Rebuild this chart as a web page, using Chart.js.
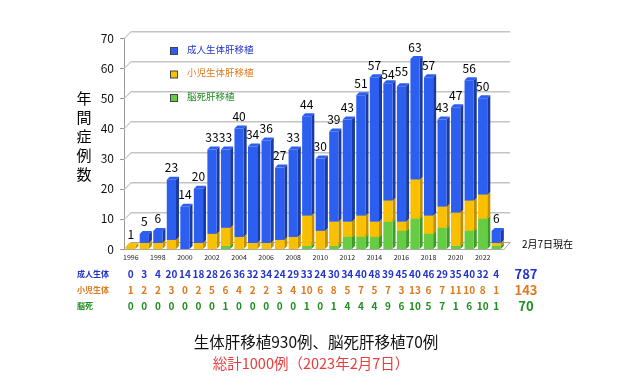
<!DOCTYPE html>
<html>
<head>
<meta charset="utf-8">
<script src="https://cdn.jsdelivr.net/npm/chart.js@4/dist/chart.umd.min.js"></script>
<style>
  html, body { margin: 0; padding: 0; background: #fff; }
</style>
</head>
<body>
<canvas id="myChart" width="637" height="387"></canvas>
<script>
const FONT = '"Noto Sans CJK JP", "Noto Sans", sans-serif';

const years = ['1996','1997','1998','1999','2000','2001','2002','2003','2004','2005','2006','2007','2008','2009',
  '2010','2011','2012','2013','2014','2015','2016','2017','2018','2019','2020','2021','2022','2023'];
const adult = [0,3,4,20,14,18,28,26,36,32,34,24,29,33,24,30,34,40,48,39,45,40,46,29,35,40,32,4];
const child = [1,2,2,3,0,2,5,6,4,2,2,3,4,10,6,8,5,7,5,7,3,13,6,7,11,10,8,1];
const brainDead = [0,0,0,0,0,0,0,1,0,0,0,0,0,1,0,1,4,4,4,9,6,10,5,7,1,6,10,1];
// totals as printed above the bars
const totals = [1,5,6,23,14,20,33,33,40,34,36,27,33,44,30,39,43,51,57,54,55,63,57,43,47,56,50,6];
const rowTotals = [787, 143, 70];
const yTicks = [0,10,20,30,40,50,60,70];

const series = [
  { label: '脳死肝移植', data: brainDead, color: '#66cc44', side: '#3f9a28', text: '#1f8f1f', row: '脳死' },
  { label: '小児生体肝移植', data: child, color: '#f8c000', side: '#c48f00', text: '#e07a20', row: '小児生体' },
  { label: '成人生体肝移植', data: adult, color: '#2c5ef0', side: '#1a3a9e', text: '#2233cc', row: '成人生体' }
];

const DEPTH = 7; // back wall offset

function poly(c, pts, color) {
  c.fillStyle = color;
  c.beginPath();
  c.moveTo(pts[0][0], pts[0][1]);
  pts.slice(1).forEach(p => c.lineTo(p[0], p[1]));
  c.closePath();
  c.fill();
}

// back wall grid and floor, painted behind everything already drawn
const wall = {
  id: 'wall',
  afterDraw(chart) {
    const c = chart.ctx;
    const ys = chart.scales.y;
    const left = chart.chartArea.left;
    const right = chart.chartArea.right;
    c.save();
    c.globalCompositeOperation = 'destination-over';
    yTicks.forEach(v => {
      const y = Math.round(ys.getPixelForValue(v));
      const h = v === 0 ? 1 : 1.5;
      const col = v === 0 ? '#a8a8a8' : '#c4c4c4';
      c.fillStyle = '#999';
      c.fillRect(left - 4, y, 4, 1);
      poly(c, [[left, y], [left + DEPTH, y - DEPTH], [left + DEPTH, y - DEPTH + h], [left, y + h]], col);
      c.fillStyle = col;
      c.fillRect(left + DEPTH, y - DEPTH, right - left, h);
      if (v === 0) {
        poly(c, [[right + DEPTH, y - DEPTH], [right + DEPTH + 1, y - DEPTH], [right + 1, y + 1], [right, y + 1]], col);
        c.fillRect(left, y, right - left, 1);
      }
    });
    const top = Math.round(ys.getPixelForValue(70));
    c.fillStyle = '#999';
    c.fillRect(left, top, 1, Math.round(ys.getPixelForValue(0)) - top + 1);
    c.restore();
  }
};

// fake 3d: side and top faces behind the front faces
const bars3d = {
  id: 'bars3d',
  beforeDatasetsDraw(chart) {
    const c = chart.ctx;
    const dx = 3, dy = -3;
    c.save();
    chart.data.datasets.forEach((ds, i) => {
      chart.getDatasetMeta(i).data.forEach((bar, j) => {
        if (!ds.data[j]) return;
        const { x, y, base, width } = bar.getProps(['x', 'y', 'base', 'width'], true);
        const l = x - width / 2, r = x + width / 2;
        poly(c, [[r, y], [r + dx, y + dy], [r + dx, base + dy], [r, base]], series[i].side);
        poly(c, [[l, y], [l + dx, y + dy], [r + dx, y + dy], [r, y]], series[i].color);
      });
    });
    c.restore();
  }
};

const extras = {
  id: 'extras',
  afterDraw(chart) {
    const c = chart.ctx;
    const xs = chart.scales.x;
    const ys = chart.scales.y;
    c.save();
    c.textBaseline = 'middle';

    // totals above bars
    c.fillStyle = '#000';
    c.font = '12px ' + FONT;
    c.textAlign = 'center';
    totals.forEach((t, i) => {
      c.fillText(String(t), xs.getPixelForValue(i), ys.getPixelForValue(t) - 12);
    });

    // vertical axis title
    c.font = '15px ' + FONT;
    '年間症例数'.split('').forEach((ch, i) => c.fillText(ch, 84, 98 + i * 19));

    // legend
    c.textAlign = 'left';
    c.font = '9.5px ' + FONT;
    const legend = [series[2], series[1], series[0]];
    legend.forEach((s, i) => {
      const ly = 50 + i * 23.5;
      c.fillStyle = '#444';
      c.fillRect(170, ly - 3, 8, 8);
      c.fillStyle = s.color;
      c.fillRect(171, ly - 2, 6, 6);
      c.fillStyle = s.text;
      c.fillText(s.label, 187, ly - 1);
    });

    // note
    c.fillStyle = '#000';
    c.font = '10px ' + FONT;
    c.fillText('2月7日現在', 522, 244);

    // table under axis
    const rows = [series[2], series[1], series[0]];
    rows.forEach((s, r) => {
      const ry = 274 + r * 16;
      c.fillStyle = s.text;
      c.textAlign = 'left';
      c.font = 'bold 8px ' + FONT;
      c.fillText(s.row, 77, ry);
      c.textAlign = 'center';
      c.font = 'bold 10px ' + FONT;
      s.data.forEach((v, i) => c.fillText(String(v), xs.getPixelForValue(i), ry));
      c.font = 'bold 13px ' + FONT;
      c.fillText(String(rowTotals[r]), 526, ry);
    });

    // captions
    c.textAlign = 'center';
    c.font = '15.5px ' + FONT;
    c.fillStyle = '#111';
    c.fillText('生体肝移植930例、脳死肝移植70例', 316, 342);
    c.fillStyle = '#e83c3c';
    c.font = '14.5px ' + FONT;
    c.fillText('総計1000例（2023年2月7日）', 311, 363);
    c.restore();
  }
};

new Chart(document.getElementById('myChart'), {
  type: 'bar',
  data: {
    labels: years,
    datasets: series.map(s => ({
      label: s.label,
      data: s.data,
      backgroundColor: s.color,
      borderWidth: 0,
      barPercentage: 0.68,
      categoryPercentage: 1
    }))
  },
  options: {
    responsive: false,
    animation: false,
    layout: { padding: { top: 38, right: 134, bottom: 122, left: 0 } },
    plugins: { legend: { display: false }, tooltip: { enabled: false } },
    scales: {
      x: {
        stacked: true,
        grid: { display: false, drawTicks: false },
        border: { display: false },
        ticks: {
          autoSkip: false,
          maxRotation: 0,
          color: '#222',
          font: { size: 7, family: FONT },
          padding: 4,
          callback: (v, i) => (i % 2 === 0 ? years[i] : '')
        },
        afterFit: s => { s.height = 16; }
      },
      y: {
        stacked: true,
        min: 0,
        max: 70,
        afterBuildTicks: s => { s.ticks = yTicks.map(v => ({ value: v })); },
        grid: { display: false, drawTicks: false },
        border: { display: false },
        ticks: { color: '#111', font: { size: 12, family: FONT }, padding: 10 },
        afterFit: s => { s.width = 124; }
      }
    }
  },
  plugins: [bars3d, extras, wall]
});
</script>
</body>
</html>
